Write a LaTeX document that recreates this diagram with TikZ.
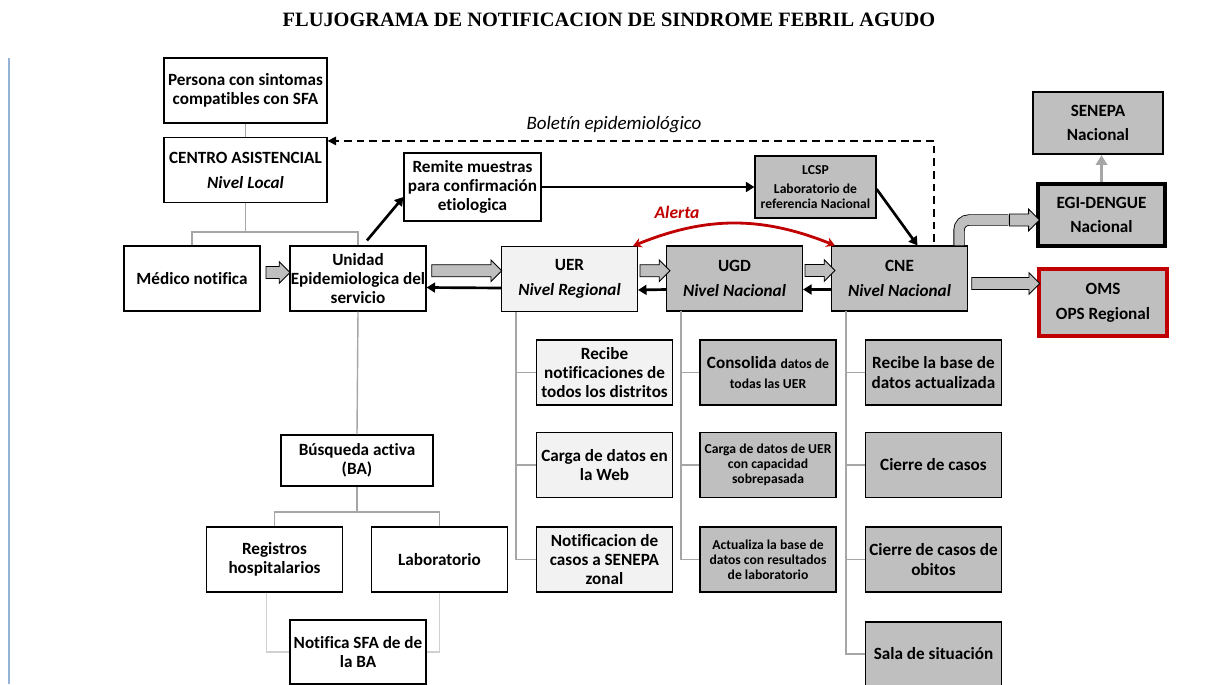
\documentclass[tikz,border=0pt]{standalone}
\usepackage{fontspec}
\setmainfont[Ligatures=NoCommon]{Carlito}
\newfontfamily\titlefont{Liberation Serif}
\usetikzlibrary{arrows.meta,calc,shapes.arrows}
\definecolor{boxlight}{HTML}{F2F2F2}
\definecolor{boxdark}{HTML}{BFBFBF}
\definecolor{treegray}{HTML}{A6A6A6}
\definecolor{treelight}{HTML}{D0D0D0}
\definecolor{alertred}{HTML}{C00000}
\definecolor{pagebar}{HTML}{95B3D7}
\newcommand{\smalltxt}{\fontsize{9.7}{10.8}\selectfont}
\tikzset{
  box/.style={draw, line width=0.8pt, align=center, inner sep=0pt, minimum width=3.4cm, minimum height=1.625cm, font=\fontsize{12.2}{13.8}\selectfont\bfseries},
  light/.style={box, fill=boxlight},
  dark/.style={box, fill=boxdark},
  smalltext/.style={font=\smalltxt\bfseries},
  treeline/.style={draw=treegray, line width=1pt},
  treelite/.style={draw=treelight, line width=1pt},
  go/.style={line width=1.9pt, -{Triangle[length=6pt,width=7pt]}},
  boletinline/.style={line width=1.1pt, dash pattern=on 5.5pt off 3.5pt, -{Triangle[length=6pt,width=6pt]}},
  fat/.style={shape=single arrow, draw, line width=0.6pt, fill=boxdark, inner sep=0pt, text height=0.14cm, text depth=0.14cm, single arrow head extend=0.12cm},
}
\begin{document}
\begin{tikzpicture}[x=0.025cm, y=-0.025cm]
\useasboundingbox (0,0) rectangle (1229,684);
\clip (0,0) rectangle (1229,684);

\node (title) at (609,20) {\titlefont\bfseries\fontsize{14.5}{16}\selectfont FLUJOGRAMA DE NOTIFICACION DE SINDROME FEBRIL AGUDO};
\draw[pagebar, line width=0.8pt] (9,58) -- (9,684);

\node[box, minimum width=4.075cm] (persona) at (245.5,90.5) {Persona con sintomas\\compatibles con SFA};
\node[box, minimum width=4.075cm] (centro) at (245.5,170) {CENTRO ASISTENCIAL\\[4pt]\textit{Nivel Local}};
\node[box] (medico) at (192,278.5) {Médico notifica};
\node[box] (unidad) at (358,278.5) {Unidad\\Epidemiologica del\\servicio};
\node[box, minimum width=3.425cm, minimum height=1.7cm] (remite) at (472.5,187) {Remite muestras\\para confirmación\\etiologica};
\node[dark, minimum width=3.025cm, minimum height=1.55cm, smalltext] (lcsp) at (815.5,187) {LCSP\\[3pt]Laboratorio de\\referencia Nacional};
\node[light] (uer) at (569.5,279) {UER\\[4pt]\textit{Nivel Regional}};
\node[dark] (ugd) at (734.5,278.5) {UGD\\[4pt]\textit{Nivel Nacional}};
\node[dark] (cne) at (899.5,278.5) {CNE\\[4pt]\textit{Nivel Nacional}};
\node[dark, minimum width=3.25cm, minimum height=1.55cm, line width=1.5pt] (senepa) at (1098,123) {SENEPA\\[3pt]Nacional};
\node[dark, minimum width=3.175cm, minimum height=1.55cm, line width=2.2pt] (egi) at (1101.5,215) {EGI-DENGUE\\[3pt]Nacional};
\node[dark, minimum width=3.2cm, minimum height=1.675cm, draw=alertred, line width=2.2pt] (oms) at (1103,302.5) {OMS\\[4pt]OPS Regional};

\node[light] (recibe) at (604.5,372.5) {Recibe\\notificaciones de\\todos los distritos};
\node[light] (web) at (604.5,465) {Carga de datos en\\la Web};
\node[light] (zonal) at (604.5,559.5) {Notificacion de\\casos a SENEPA\\zonal};
\node[dark] (consolida) at (768,372.5) {Consolida {\smalltxt datos de}\\{\smalltxt todas las UER}};
\node[dark, smalltext] (cargauer) at (768,465) {Carga de datos de UER\\con capacidad\\sobrepasada};
\node[dark, smalltext] (actualiza) at (768,559.5) {Actualiza la base de\\datos con resultados\\de laboratorio};
\node[dark] (recibebase) at (933.5,372.5) {Recibe la base de\\datos actualizada};
\node[dark] (cierre) at (933.5,465) {Cierre de casos};
\node[dark] (obitos) at (933.5,559.5) {Cierre de casos de\\obitos};
\node[dark, minimum height=1.6cm] (sala) at (933.5,654) {Sala de situación};

\node[box, minimum width=3.8cm, minimum height=1.275cm] (busqueda) at (357,460.5) {Búsqueda activa\\(BA)};
\node[box] (registros) at (274.5,559.5) {Registros\\hospitalarios};
\node[box] (laboratorio) at (439.5,559.5) {Laboratorio};
\node[box, minimum height=1.6cm] (notifica) at (358,652) {Notifica SFA de de\\la BA};

\node[font=\fontsize{13.5}{15}\selectfont\itshape] (boletin) at (614,125) {Boletín epidemiológico};
\node[text=alertred, font=\fontsize{12.5}{14}\selectfont\bfseries\itshape] (alerta) at (677,212) {Alerta};

\coordinate (jcentro) at (245.5,232);
\coordinate (uerbus) at (516,312);
\coordinate (ugdbus) at (681,311);
\coordinate (cnebus) at (846,311);
\coordinate (jba) at (357,512);
\coordinate (bolstart) at (934,242);

\path[treeline] (persona) edge (centro);
\draw[treeline] (centro.south) -- (jcentro) -| (medico.north);
\draw[treeline] (jcentro) -| (unidad.north);
\draw[treeline] (uerbus) |- (recibe.west) (uerbus) |- (web.west) (uerbus) |- (zonal.west);
\draw[treeline] (ugdbus) |- (consolida.west) (ugdbus) |- (cargauer.west) (ugdbus) |- (actualiza.west);
\draw[treeline] (cnebus) |- (recibebase.west) (cnebus) |- (cierre.west) (cnebus) |- (obitos.west) (cnebus) |- (sala.west);
\draw[treeline] (unidad.south) -- (busqueda.north);
\draw[treeline] (busqueda.south) -- (jba) -| (registros.north);
\draw[treeline] (jba) -| (laboratorio.north);
\draw[treelite] ($(registros.south)+(-8,0)$) |- (notifica.west);
\draw[treelite] (laboratorio.south) |- (notifica.east);

\draw[go] ($(unidad.north)+(9,-5)$) -- ($(remite.west)+(0,10)$);
\draw[go] (remite.east) -- (lcsp.west);
\draw[go] ($(lcsp.east)+(0,2)$) -- ($(cne.north)+(18,0)$);
\draw[go] ($(uer.west)+(0,9)$) -- ($(unidad.east)+(0,9)$);
\draw[go] ($(ugd.west)+(0,11)$) -- ($(uer.east)+(0,11)$);
\draw[go] ($(cne.west)+(0,11)$) -- ($(ugd.east)+(0,11)$);
\draw[boletinline] (bolstart) |- ($(centro.north east)+(0,4)$);
\draw[alertred, line width=2pt, {Stealth[length=6pt,width=7pt]}-{Stealth[length=6pt,width=7pt]}] ($(uer.north east)+(-5,0)$) to[bend left=22] ($(cne.north west)+(4,0)$);
\draw[treegray, line width=2.2pt, -{Triangle[length=7pt,width=8pt]}] (egi.north) -- (egi.north |- senepa.south);

\node[fat, minimum height=0.6cm] (fa1) at ($(medico.east)!.5!(unidad.west)+(0,-6)$) {};
\node[fat, minimum height=1.75cm] (fa2) at ($(unidad.east)!.5!(uer.west)+(0,-8)$) {};
\node[fat, minimum height=0.75cm] (fa3) at ($(uer.east)!.5!(ugd.west)+(0,-8)$) {};
\node[fat, minimum height=0.75cm] (fa4) at ($(ugd.east)!.5!(cne.west)+(0,-8)$) {};
\node[fat, minimum height=1.7cm] (fa5) at ($(cne.east)!.5!(oms.west)+(0,-7)$) {};
\draw[double=boxdark, double distance=0.24cm, line width=0.6pt, rounded corners=0.25cm] ($(cne.north east)+(-9,0)$) |- ($(egi.west)+(-28,5)$);
\node[fat, minimum height=0.75cm] (fa6) at ($(egi.west)+(-15,5)$) {};
\end{tikzpicture}
\end{document}
